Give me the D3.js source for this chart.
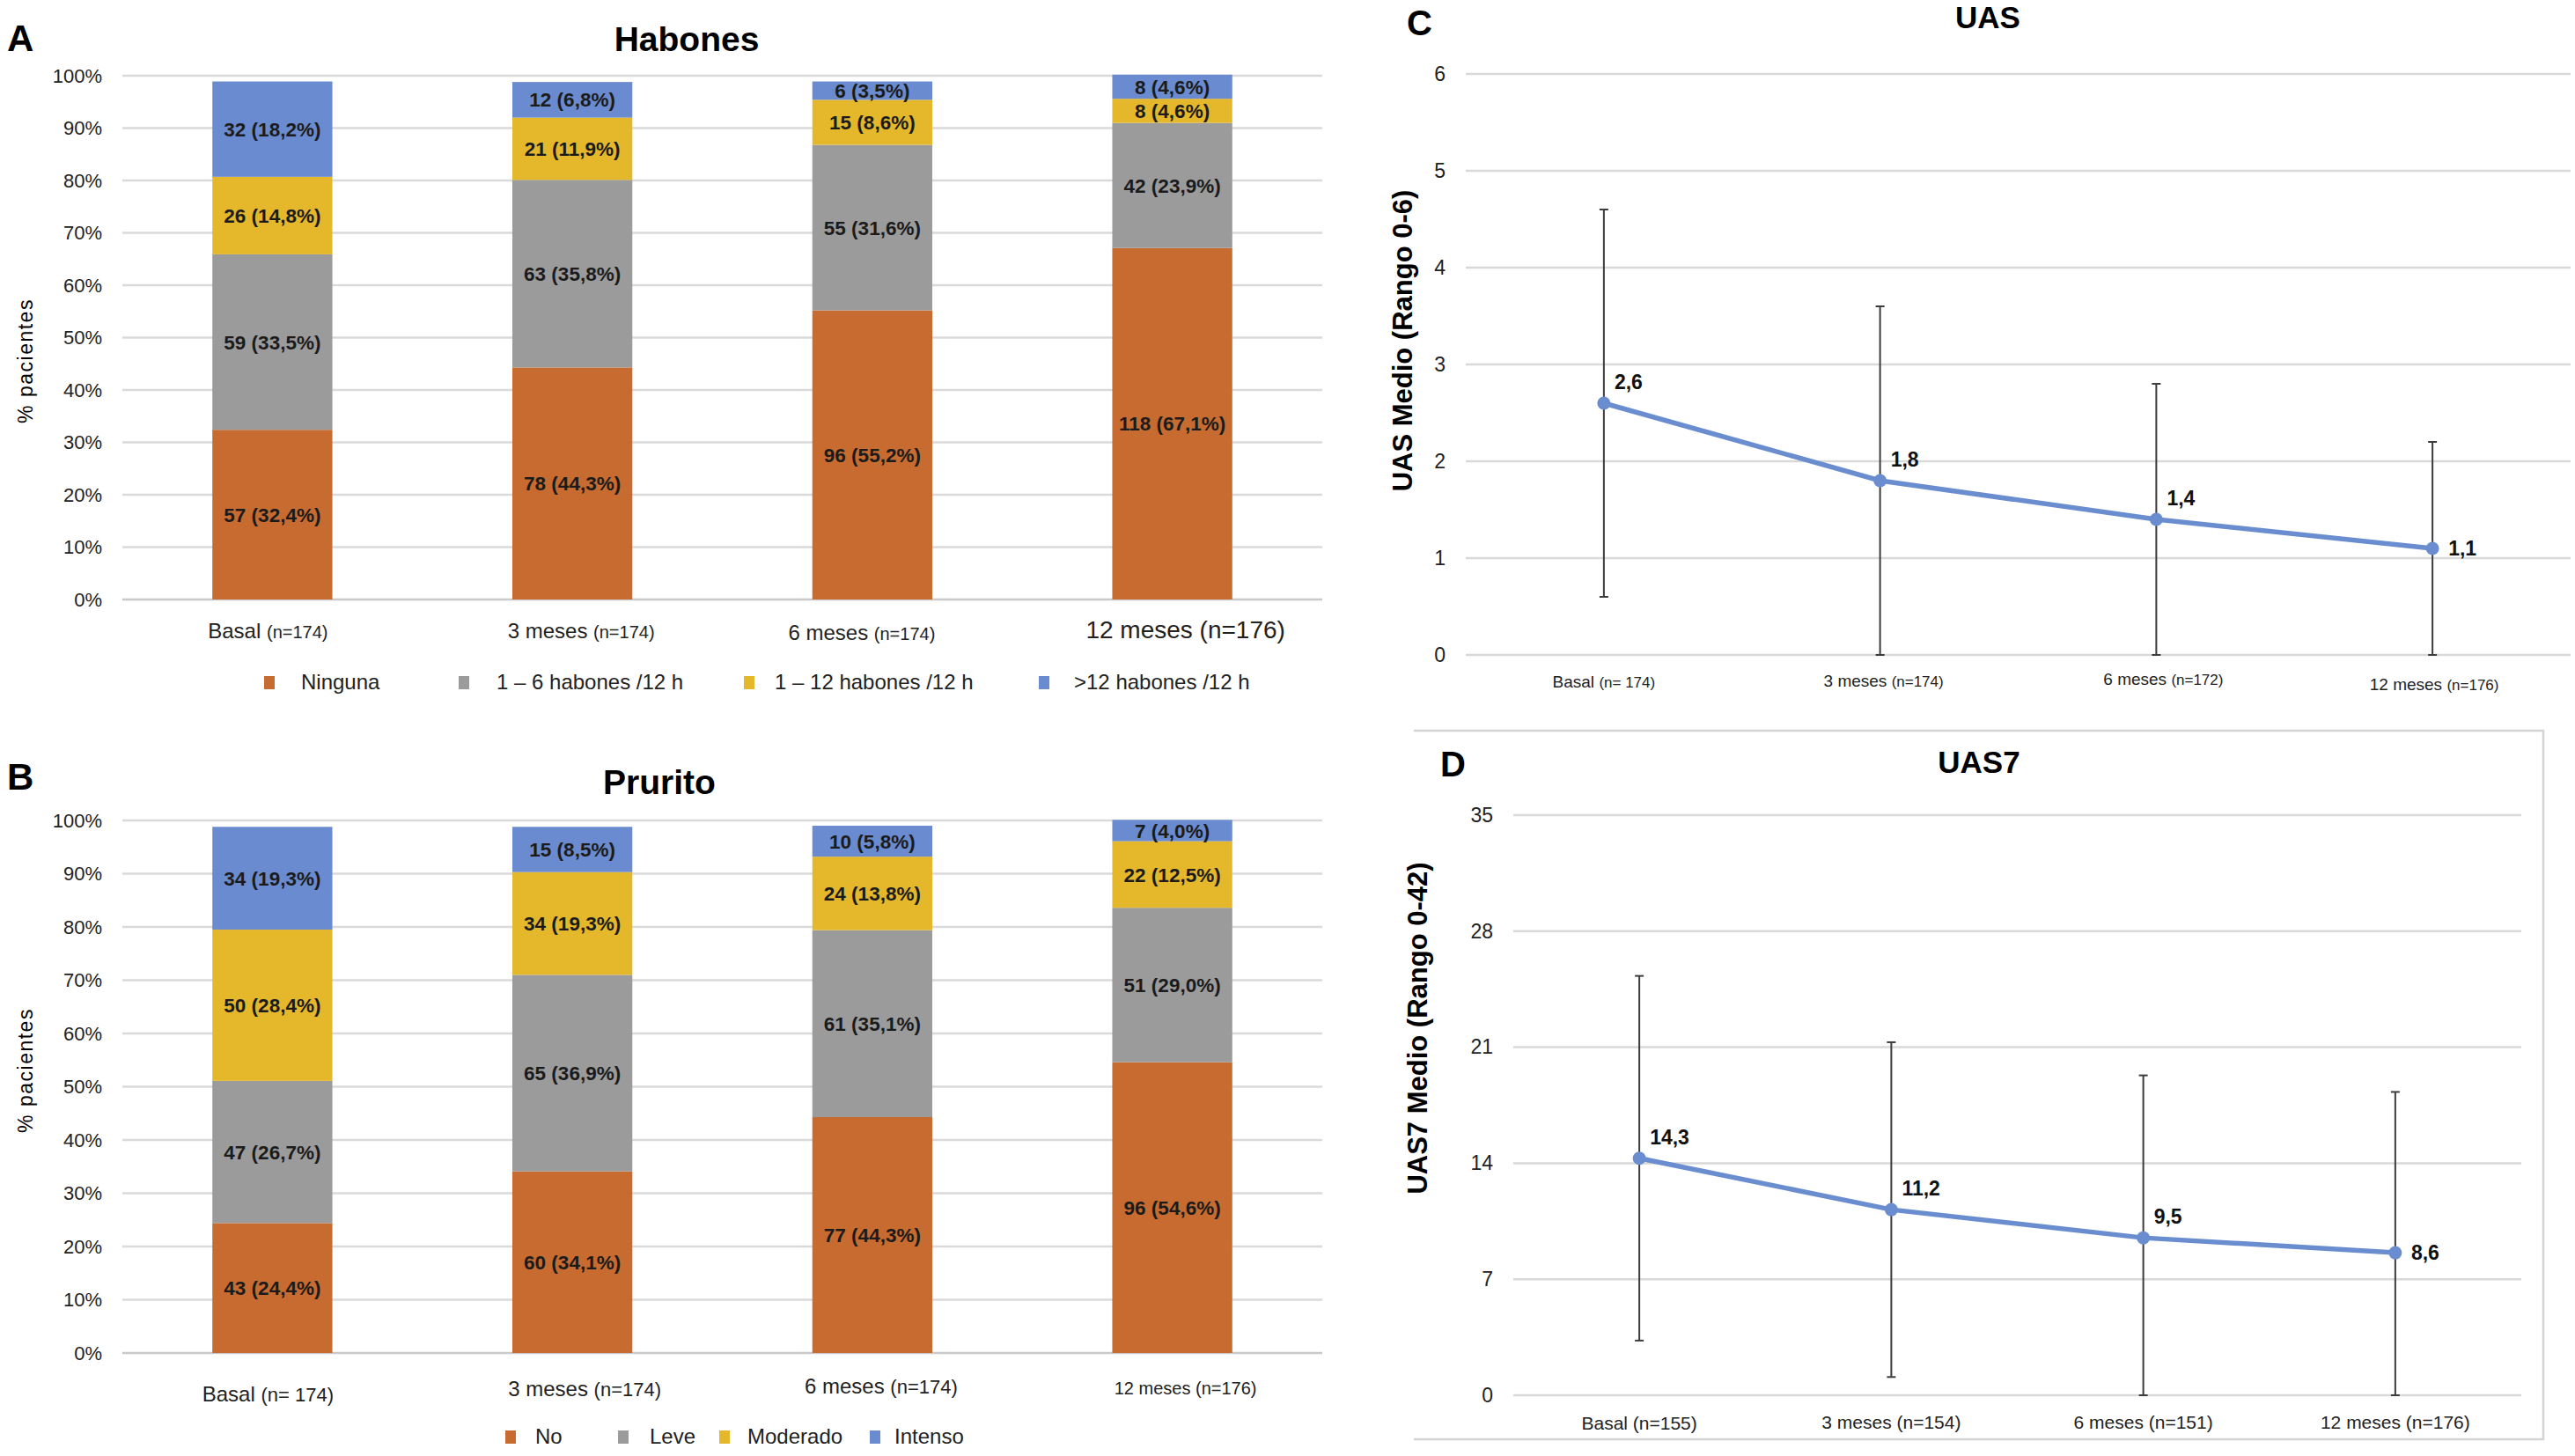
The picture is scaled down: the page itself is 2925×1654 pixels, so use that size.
<!DOCTYPE html>
<html>
<head>
<meta charset="utf-8">
<script src="https://cdn.jsdelivr.net/npm/d3@7/dist/d3.min.js"></script>
<style>
  body { margin: 0; background: #fff; }
  text { font-family: "Liberation Sans", Arial, sans-serif; }
</style>
</head>
<body>
<svg id="chart" width="2925" height="1654"></svg>
<script>
// ---- datos ----
var periodos = ["Basal", "3 meses", "6 meses", "12 meses"]

// A - Habones
var habSeries = ["Ninguna", "1 – 6 habones /12 h", "1 – 12 habones /12 h", ">12 habones /12 h"]
var habN   = [[57, 78, 96, 118], [59, 63, 55, 42], [26, 21, 15, 8], [32, 12, 6, 8]]
var habPct = [[32.4, 44.3, 55.2, 67.1], [33.5, 35.8, 31.6, 23.9], [14.8, 11.9, 8.6, 4.6], [18.2, 6.8, 3.5, 4.6]]
var habNlab = ["(n=174)", "(n=174)", "(n=174)", "(n=176)"]

// B - Prurito
var pruSeries = ["No", "Leve", "Moderado", "Intenso"]
var pruN   = [[43, 60, 77, 96], [47, 65, 61, 51], [50, 34, 24, 22], [34, 15, 10, 7]]
var pruPct = [[24.4, 34.1, 44.3, 54.6], [26.7, 36.9, 35.1, 29.0], [28.4, 19.3, 13.8, 12.5], [19.3, 8.5, 5.8, 4.0]]
var pruNlab = ["(n= 174)", "(n=174)", "(n=174)", "(n=176)"]

// C - UAS
var uasMedia = [2.6, 1.8, 1.4, 1.1]
var uasDE    = [2.0, 1.8, 1.4, 1.1]
var uasNlab  = ["(n= 174)", "(n=174)", "(n=172)", "(n=176)"]

// D - UAS7
var uas7Media = [14.3, 11.2, 9.5, 8.6]
var uas7DE    = [11.0, 10.1, 9.8, 9.7]
var uas7Nlab  = ["(n=155)", "(n=154)", "(n=151)", "(n=176)"]

var colores = ["#c76b30", "#9b9b9b", "#e5b82b", "#6a8bcf"]
var azul = "#6a8dd0"

var svg = d3.select("#chart")
svg.append("rect").attr("width", 2925).attr("height", 1654).attr("fill", "#fff")

var coma = function(v){ return d3.format(".1f")(v).replace(".", ",") }

function barras(o){
    var g = svg.append("g")
    var x = d3.scaleBand().domain(periodos).range([o.left, o.right]).paddingInner(0.6).paddingOuter(0.3)
    var y = d3.scaleLinear().domain([0, 100]).range([o.bottom, o.top])

    // letra y titulo
    g.append("text").attr("x", 8).attr("y", o.letterY).text(o.letter)
      .attr("font-size", 42).attr("font-weight", "bold")
    g.append("text").attr("x", o.titleX).attr("y", o.titleY).text(o.title)
      .attr("text-anchor", "middle").attr("font-size", 39).attr("font-weight", "bold")

    // grid + ticks
    var ticks = d3.range(0, 101, 10)
    g.selectAll(".grid").data(ticks).enter().append("line")
      .attr("x1", o.left).attr("x2", o.right)
      .attr("y1", d => y(d)).attr("y2", d => y(d))
      .attr("stroke", d => d == 0 ? "#c9c9c9" : "#dadada").attr("stroke-width", 2.5)
    var ax = g.append("g").attr("transform", "translate(" + (o.left - 20) + ",0)")
      .call(d3.axisLeft(y).tickValues(ticks).tickSize(0).tickFormat(d => d + "%"))
    ax.select(".domain").remove()
    ax.selectAll("text").attr("font-size", 22).attr("fill", "#222")
      .style("font-family", "'Liberation Sans', Arial, sans-serif")

    g.append("text").attr("transform", "translate(37," + o.ylabY + ") rotate(-90)")
      .attr("text-anchor", "middle").attr("font-size", 23).attr("letter-spacing", 1.5)
      .text("%  pacientes")

    // barras apiladas
    var filas = periodos.map(function(p, i){
        var r = {periodo: p}
        o.series.forEach(function(s, k){ r[s] = o.pct[k][i]; r["n" + k] = o.n[k][i] })
        return r
    })
    var stack = d3.stack().keys(o.series)(filas)
    stack.forEach(function(capa, k){
        var cg = g.append("g")
        cg.selectAll("rect").data(capa).enter().append("rect")
          .attr("x", d => x(d.data.periodo)).attr("width", x.bandwidth())
          .attr("y", d => y(d[1])).attr("height", d => y(d[0]) - y(d[1]))
          .attr("fill", colores[k])
        cg.selectAll("text").data(capa).enter().append("text")
          .attr("x", d => x(d.data.periodo) + x.bandwidth() / 2)
          .attr("y", d => (y(d[0]) + y(d[1])) / 2)
          .attr("dy", "0.36em").attr("text-anchor", "middle")
          .attr("font-size", 22.5).attr("font-weight", "bold").attr("fill", "#1b1b1b")
          .text(d => d.data["n" + k] + " (" + coma(d.data[o.series[k]]) + "%)")
    })

    // etiquetas eje x
    periodos.forEach(function(p, i){
        var t = g.append("text").attr("x", x(p) + x.bandwidth() / 2 + o.xlabDx[i]).attr("y", o.xlabY[i])
          .attr("text-anchor", "middle").attr("dy", "0.35em").attr("fill", "#222")
        t.append("tspan").attr("font-size", o.xlabSize[i][0]).text(p + " ")
        t.append("tspan").attr("font-size", o.xlabSize[i][1]).text(o.nlab[i])
    })

    // leyenda
    o.series.forEach(function(s, k){
        g.append("rect").attr("x", o.legSq[k]).attr("y", o.legY - 7).attr("width", 12).attr("height", 15)
          .attr("fill", colores[k])
        g.append("text").attr("x", o.legTx[k]).attr("y", o.legY).attr("dy", "0.35em")
          .attr("font-size", 24).attr("fill", "#222").text(s)
    })
}

barras({
    letter: "A", letterY: 58, title: "Habones", titleX: 780, titleY: 58,
    left: 139, right: 1502, top: 86, bottom: 681, ylabY: 410,
    series: habSeries, n: habN, pct: habPct, nlab: habNlab,
    xlabY: [719, 719, 721, 719], xlabDx: [-5, 10, -12, 15],
    xlabSize: [[24, 20], [24, 20], [24, 20], [28, 28]],
    legY: 775, legSq: [300, 521, 845, 1180], legTx: [342, 564, 880, 1220]
})

barras({
    letter: "B", letterY: 897, title: "Prurito", titleX: 749, titleY: 902,
    left: 139, right: 1502, top: 932, bottom: 1537, ylabY: 1216,
    series: pruSeries, n: pruN, pct: pruPct, nlab: pruNlab,
    xlabY: [1586, 1580, 1577, 1578], xlabDx: [-5, 14, 10, 15],
    xlabSize: [[24, 22], [24, 22], [24, 22], [20, 20]],
    legY: 1632, legSq: [574, 702, 817, 988], legTx: [608, 738, 849, 1016]
})

function lineas(o){
    var g = svg.append("g")
    var x = d3.scalePoint().domain(periodos).range([o.left, o.right]).padding(0.5)
    var y = d3.scaleLinear().domain([0, o.max]).range([o.bottom, o.top])

    g.append("text").attr("x", o.letterX).attr("y", o.letterY).text(o.letter)
      .attr("font-size", 40).attr("font-weight", "bold")
    g.append("text").attr("x", o.titleX).attr("y", o.titleY).text(o.title)
      .attr("text-anchor", "middle").attr("font-size", 35).attr("font-weight", "bold")

    var ticks = d3.range(0, o.max + 0.001, o.step)
    g.selectAll(".grid").data(ticks).enter().append("line")
      .attr("x1", o.left).attr("x2", o.right)
      .attr("y1", d => y(d)).attr("y2", d => y(d))
      .attr("stroke", "#d9d9d9").attr("stroke-width", 2.5)
    var ax = g.append("g").attr("transform", "translate(" + (o.left - 20) + ",0)")
      .call(d3.axisLeft(y).tickValues(ticks).tickSize(0).tickFormat(d3.format("d")))
    ax.select(".domain").remove()
    ax.selectAll("text").attr("font-size", 23).attr("fill", "#222")
      .style("font-family", "'Liberation Sans', Arial, sans-serif")

    g.append("text").attr("transform", "translate(" + o.ylabX + "," + o.ylabY + ") rotate(-90)")
      .attr("text-anchor", "middle").attr("dy", "0.35em").attr("font-size", o.ylabSize).attr("font-weight", "bold")
      .text(o.ylab)

    var datos = periodos.map((p, i) => ({p: p, m: o.media[i], de: o.de[i], i: i}))

    // barras de error
    var eb = g.selectAll(".eb").data(datos).enter().append("g")
    eb.append("line").attr("x1", d => x(d.p)).attr("x2", d => x(d.p))
      .attr("y1", d => y(d.m + d.de)).attr("y2", d => y(Math.max(0, d.m - d.de)))
      .attr("stroke", "#3c3c3c").attr("stroke-width", 2)
    eb.append("line").attr("x1", d => x(d.p) - 5).attr("x2", d => x(d.p) + 5)
      .attr("y1", d => y(d.m + d.de)).attr("y2", d => y(d.m + d.de))
      .attr("stroke", "#3c3c3c").attr("stroke-width", 2)
    eb.append("line").attr("x1", d => x(d.p) - 5).attr("x2", d => x(d.p) + 5)
      .attr("y1", d => y(Math.max(0, d.m - d.de))).attr("y2", d => y(Math.max(0, d.m - d.de)))
      .attr("stroke", "#3c3c3c").attr("stroke-width", 2)

    g.append("path").datum(datos)
      .attr("d", d3.line().x(d => x(d.p)).y(d => y(d.m)))
      .attr("fill", "none").attr("stroke", azul).attr("stroke-width", 5.5)
    g.selectAll(".pt").data(datos).enter().append("circle")
      .attr("cx", d => x(d.p)).attr("cy", d => y(d.m)).attr("r", 7.5).attr("fill", azul)

    g.selectAll(".lab").data(datos).enter().append("text")
      .attr("x", d => x(d.p) + (d.i == 3 ? 18 : 12))
      .attr("y", d => y(d.m) + (d.i == 3 ? 0 : -24))
      .attr("dy", "0.35em").attr("font-size", 23).attr("font-weight", "bold").attr("fill", "#111")
      .text(d => coma(d.m))

    periodos.forEach(function(p, i){
        var t = g.append("text").attr("x", x(p) + o.xlabDx[i]).attr("y", o.xlabY[i])
          .attr("text-anchor", "middle").attr("dy", "0.35em").attr("fill", "#222")
        t.append("tspan").attr("font-size", o.xlabSize[0]).text(p + " ")
        t.append("tspan").attr("font-size", o.xlabSize[1]).text(o.nlab[i])
    })
}

lineas({
    letter: "C", letterX: 1598, letterY: 40, title: "UAS", titleX: 2258, titleY: 32,
    left: 1665, right: 2920, top: 84, bottom: 744, max: 6, step: 1,
    ylab: "UAS Medio (Rango 0-6)", ylabX: 1593, ylabY: 387, ylabSize: 31,
    media: uasMedia, de: uasDE, nlab: uasNlab,
    xlabY: [775, 774, 772, 778], xlabDx: [0, 4, 8, 2], xlabSize: [19, 17]
})

// marco del panel D
svg.append("path")
  .attr("d", "M1606,830 H2889 V1635 H1606")
  .attr("fill", "none").attr("stroke", "#d4d4d4").attr("stroke-width", 2.5)

lineas({
    letter: "D", letterX: 1636, letterY: 882, title: "UAS7", titleX: 2248, titleY: 878,
    left: 1719, right: 2864, top: 926, bottom: 1585, max: 35, step: 7,
    ylab: "UAS7 Medio (Rango 0-42)", ylabX: 1610, ylabY: 1168, ylabSize: 31,
    media: uas7Media, de: uas7DE, nlab: uas7Nlab,
    xlabY: [1618, 1617, 1617, 1617], xlabDx: [0, 0, 0, 0], xlabSize: [21, 21]
})
</script>
</body>
</html>
